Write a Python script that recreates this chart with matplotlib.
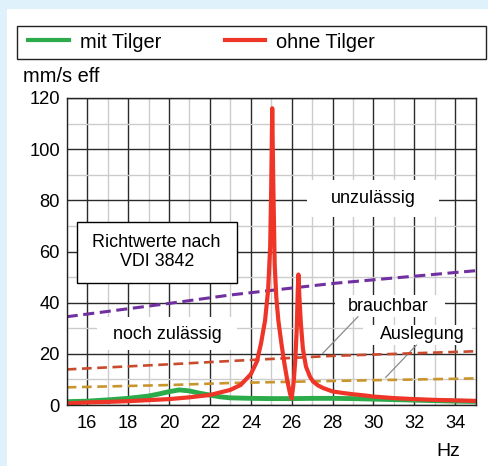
import matplotlib
matplotlib.use("Agg")
import matplotlib.pyplot as plt
from matplotlib.patches import Rectangle
from matplotlib.lines import Line2D

plt.rcParams['font.family'] = ['Liberation Sans', 'DejaVu Sans']
plt.rcParams['lines.scale_dashes'] = False

# data
f_mit = [15, 16, 17, 18, 19, 19.5, 20, 20.5, 21, 21.5, 22, 22.5, 23, 24, 25, 26,
         27, 28, 29, 30, 31, 32, 33, 34, 35]
v_mit = [1.3, 1.5, 2.0, 2.6, 3.5, 4.3, 5.2, 5.9, 5.5, 4.6, 3.9, 3.2, 2.8, 2.6, 2.5, 2.5,
         2.6, 2.6, 2.5, 2.3, 2.1, 1.9, 1.7, 1.5, 1.4]

f_ohne = [15, 16, 17, 18, 19, 20, 21, 22, 23, 23.5, 24, 24.3, 24.5, 24.7, 24.85, 24.95,
          25.0, 25.05, 25.1, 25.17, 25.25, 25.35, 25.5, 25.65, 25.8, 25.92, 26.0,
          26.1, 26.18, 26.25, 26.3, 26.33, 26.38, 26.45, 26.55, 26.7, 26.9, 27.06,
          27.3, 27.55, 28, 28.5, 29, 29.5, 30, 31, 32, 33, 34, 35]
v_ohne = [0.6, 1.0, 1.2, 1.5, 1.9, 2.3, 3.0, 3.9, 5.9, 7.8, 12, 17, 24, 33, 45, 62,
          85, 116, 88, 55, 42, 33, 24, 16, 9, 4.5, 2.5,
          9, 18, 30, 45, 51, 42, 32, 22, 15, 11, 9.1,
          7.6, 6.6, 5.3, 4.7, 4.2, 3.8, 3.3, 2.7, 2.3, 2.0, 1.8, 1.6]

f_lim = [15, 20, 23, 28, 35]
unzulaessig = [34.5, 39.7, 43, 47.5, 52.5]
brauchbar = [13.9, 15.9, 17.2, 19.2, 21.0]
auslegung = [6.9, 7.8, 8.6, 9.4, 10.4]

x_ticks = [16, 18, 20, 22, 24, 26, 28, 30, 32, 34]
y_ticks = [0, 20, 40, 60, 80, 100, 120]

W, H = 489, 466
fig = plt.figure(figsize=(W / 100, H / 100), dpi=100)
fig.patch.set_facecolor('#dff1fb')
fig.add_artist(Rectangle((7 / W, 0), 1, 1 - 9 / H, transform=fig.transFigure,
                         facecolor='white', edgecolor='none', zorder=0))

ax = fig.add_axes([66.7 / W, 61 / H, 409 / W, 307 / H])
ax.set_axisbelow(True)
ax.set_xlim(15, 35)
ax.set_ylim(0, 120)
ax.set_xticks(x_ticks)
ax.set_yticks(y_ticks)
ax.set_xticks(range(15, 36), minor=True)
ax.set_yticks(range(0, 121, 10), minor=True)
ax.grid(which='minor', color='#cccccc', lw=1.0)
ax.grid(which='major', color='#2a2a2a', lw=1.0)
ax.tick_params(which='both', length=0, labelsize=13.2, colors='black')
ax.tick_params(axis='x', pad=7)
ax.tick_params(axis='y', pad=5)
for s in ax.spines.values():
    s.set_color('#222222')
    s.set_linewidth(1.0)
    s.set_zorder(6)

# white text boxes covering the grid
def box(x0, x1, y0, y1, edge='none'):
    ax.add_patch(Rectangle((x0, y0), x1 - x0, y1 - y0, facecolor='white',
                           edgecolor=edge, lw=1.0, zorder=1))

box(15.49, 23.31, 47.7, 71.6, edge='black')
box(26.74, 33.2, 73.6, 87.9)
box(16.47, 23.31, 21.5, 34.5)
box(28.1, 33.5, 34.5, 43.0)
box(29.5, 34.8, 23.4, 31.3)

ax.text(19.4, 59.8, 'Richtwerte nach\nVDI 3842', ha='center', va='center',
        fontsize=12.9, linespacing=1.1, zorder=2)
ax.text(30.0, 80.9, 'unzulässig', ha='center', va='center', fontsize=12.9, zorder=2)
ax.text(19.9, 27.5, 'noch zulässig', ha='center', va='center', fontsize=12.9, zorder=2)
ax.text(30.7, 38.6, 'brauchbar', ha='center', va='center', fontsize=12.9, zorder=2)
ax.text(32.4, 27.4, 'Auslegung', ha='center', va='center', fontsize=12.9, zorder=2)

ax.plot([29.24, 27.52], [34.5, 20.2], color='#8a8a8a', lw=0.9, zorder=2)
ax.plot([32.1, 30.6], [23.4, 10.8], color='#8a8a8a', lw=0.9, zorder=2)

ax.plot(f_lim, unzulaessig, color='#7030a0', lw=2.2, dashes=(8, 4), zorder=3)
ax.plot(f_lim, brauchbar, color='#c94a2c', lw=1.9, dashes=(7, 4), zorder=3)
ax.plot(f_lim, auslegung, color='#c9962e', lw=1.9, dashes=(7, 4), zorder=3)

ax.plot(f_mit, v_mit, color='#2bab4a', lw=3.5, solid_capstyle='round',
        solid_joinstyle='round', zorder=4)
ax.plot(f_ohne, v_ohne, color='#ef3527', lw=3.0, solid_capstyle='round',
        solid_joinstyle='round', zorder=5)

# legend box
fig.add_artist(Rectangle((17 / W, 1 - 59 / H), 469 / W, 33 / H, transform=fig.transFigure,
                         facecolor='white', edgecolor='#222222', lw=1.0))
fig.add_artist(Line2D([28 / W, 69 / W], [1 - 40 / H] * 2, transform=fig.transFigure,
                      color='#2bab4a', lw=3.0))
fig.add_artist(Line2D([225 / W, 265 / W], [1 - 40 / H] * 2, transform=fig.transFigure,
                      color='#ef3527', lw=3.0))
fig.text(80 / W, 1 - 42 / H, 'mit Tilger', ha='left', va='center', fontsize=14.4)
fig.text(276 / W, 1 - 42 / H, 'ohne Tilger', ha='left', va='center', fontsize=14.4)

fig.text(23 / W, 1 - 77 / H, 'mm/s eff', ha='left', va='center', fontsize=14.4)
fig.text(448 / W, 1 - 452 / H, 'Hz', ha='center', va='center', fontsize=14)

fig.savefig('out.png', dpi=100, facecolor=fig.get_facecolor())
